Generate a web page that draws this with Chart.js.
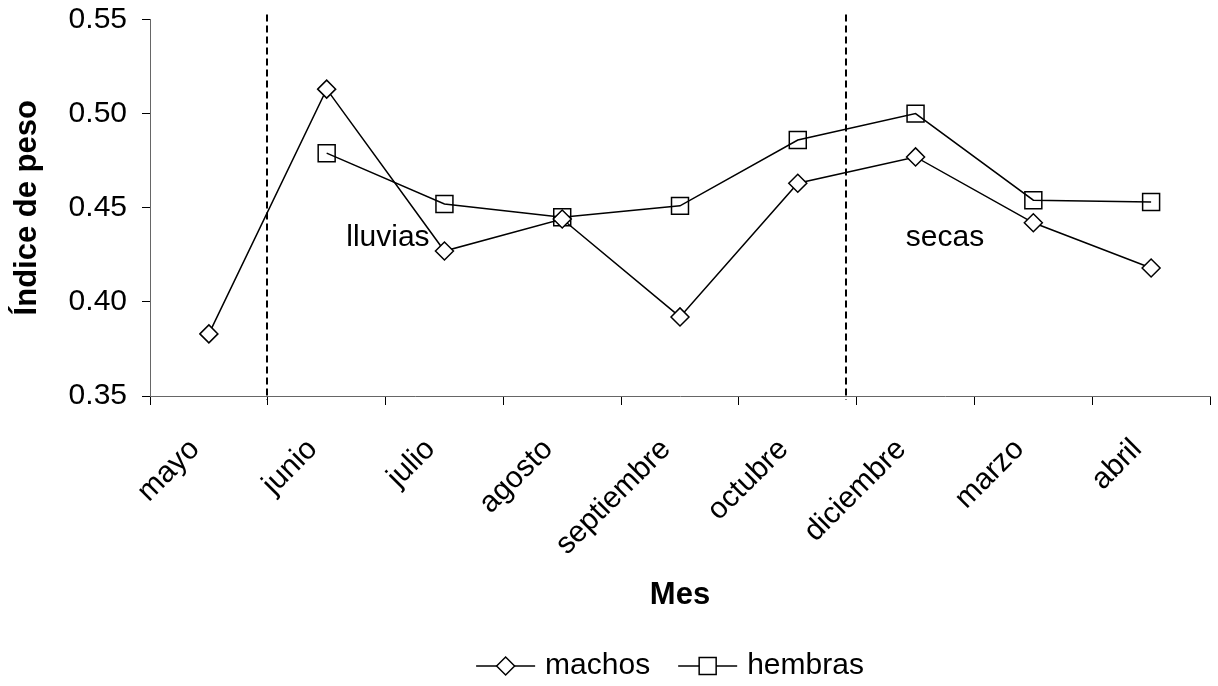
<!DOCTYPE html>
<html>
<head>
<meta charset="utf-8">
<script src="https://cdn.jsdelivr.net/npm/chart.js@4/dist/chart.umd.min.js"></script>
<style>
  html, body { margin: 0; padding: 0; background: #fff; }
  #wrap { width: 1218px; height: 686px; }
</style>
</head>
<body>
<div id="wrap"><canvas id="chart"></canvas></div>
<script>
// data
var meses = ['mayo', 'junio', 'julio', 'agosto', 'septiembre', 'octubre', 'diciembre', 'marzo', 'abril'];
var machos = [0.383, 0.513, 0.427, 0.444, 0.392, 0.463, 0.477, 0.442, 0.418];
var hembras = [null, 0.479, 0.452, 0.445, 0.451, 0.486, 0.500, 0.454, 0.453];
var yTicks = [0.35, 0.40, 0.45, 0.50, 0.55];

// season split lines (category index) and their labels
var cortes = [0.49, 5.41];
var temporadas = [
    { text: 'lluvias', x: 1.52, y: 0.434 },
    { text: 'secas', x: 6.25, y: 0.434 }
];

var FONT = "'Liberation Sans', Arial, sans-serif";

// dashed lines + season text
var seasonPlugin = {
    id: 'seasons',
    afterDatasetsDraw: function (chart) {
        var ctx = chart.ctx, xs = chart.scales.x, ys = chart.scales.y;
        ctx.save();
        ctx.strokeStyle = '#000';
        ctx.lineWidth = 2;
        ctx.setLineDash([7, 4]);
        cortes.forEach(function (c) {
            var px = Math.round(xs.getPixelForValue(c));
            ctx.beginPath();
            ctx.moveTo(px, chart.chartArea.top - 5);
            ctx.lineTo(px, chart.chartArea.bottom + 4);
            ctx.stroke();
        });
        ctx.setLineDash([]);
        ctx.fillStyle = '#000';
        ctx.font = '30px ' + FONT;
        ctx.textAlign = 'center';
        ctx.textBaseline = 'middle';
        temporadas.forEach(function (t) {
            ctx.fillText(t.text, xs.getPixelForValue(t.x), ys.getPixelForValue(t.y));
        });
        ctx.restore();
    }
};

// excel style legend: line with marker in the middle
function drawMarker(ctx, style, x, y) {
    ctx.beginPath();
    if (style === 'rectRot') {
        ctx.moveTo(x - 9, y); ctx.lineTo(x, y - 9); ctx.lineTo(x + 9, y); ctx.lineTo(x, y + 9);
    } else {
        ctx.rect(x - 8.5, y - 8.5, 17, 17);
    }
    ctx.closePath();
    ctx.fill();
    ctx.stroke();
}

var legendPlugin = {
    id: 'excelLegend',
    afterDraw: function (chart) {
        var ctx = chart.ctx;
        var sets = chart.data.datasets;
        ctx.save();
        ctx.font = '30px ' + FONT;
        var lineLen = 59, gap = 10, between = 28;
        var total = 0;
        sets.forEach(function (d, i) {
            total += lineLen + gap + ctx.measureText(d.label).width + (i ? between : 0);
        });
        var x = 670 - total / 2, y = 666;
        sets.forEach(function (d) {
            ctx.strokeStyle = '#000';
            ctx.fillStyle = '#fff';
            ctx.lineWidth = 1.5;
            ctx.beginPath();
            ctx.moveTo(x, y); ctx.lineTo(x + lineLen, y);
            ctx.stroke();
            drawMarker(ctx, d.pointStyle, x + lineLen / 2, y);
            ctx.fillStyle = '#000';
            ctx.textAlign = 'left';
            ctx.textBaseline = 'middle';
            ctx.fillText(d.label, x + lineLen + gap, y);
            x += lineLen + gap + ctx.measureText(d.label).width + between;
        });
        ctx.restore();
    }
};

var ctx = document.getElementById('chart').getContext('2d');
var chart = new Chart(ctx, {
    type: 'line',
    data: {
        labels: meses,
        datasets: [
            {
                label: 'machos',
                data: machos,
                borderColor: '#000',
                borderWidth: 1.5,
                pointStyle: 'rectRot',
                pointRadius: 9,
                pointBorderWidth: 1.5,
                pointBackgroundColor: '#fff',
                pointBorderColor: '#000',
                tension: 0
            },
            {
                label: 'hembras',
                data: hembras,
                borderColor: '#000',
                borderWidth: 1.5,
                pointStyle: 'rect',
                pointRadius: 12,
                pointBorderWidth: 1.5,
                pointBackgroundColor: 'rgba(255,255,255,0)',
                pointBorderColor: '#000',
                tension: 0
            }
        ]
    },
    options: {
        responsive: true,
        maintainAspectRatio: false,
        animation: false,
        layout: { autoPadding: false, padding: { top: 19.5, right: 8, bottom: 70, left: 0 } },
        plugins: {
            legend: { display: false },
            tooltip: { enabled: false }
        },
        scales: {
            x: {
                type: 'category',
                offset: true,
                grid: { offset: true, drawOnChartArea: false, drawTicks: true, tickLength: 9, color: '#000' },
                border: { color: '#666', width: 1 },
                ticks: {
                    autoSkip: false,
                    minRotation: 45,
                    maxRotation: 45,
                    padding: 27,
                    labelOffset: -14,
                    color: '#000',
                    font: { family: FONT, size: 30 }
                },
                title: {
                    display: true,
                    text: 'Mes',
                    color: '#000',
                    padding: { top: 0, bottom: 2 },
                    font: { family: FONT, size: 31, weight: 'bold' }
                },
                afterFit: function (scale) {
                    scale.height = 220;
                    scale.paddingLeft = 0;
                    scale.paddingRight = 0;
                }
            },
            y: {
                min: 0.35,
                max: 0.55,
                afterBuildTicks: function (scale) {
                    scale.ticks = yTicks.map(function (v) { return { value: v }; });
                },
                grid: { drawOnChartArea: false, drawTicks: true, tickLength: 8, color: '#000' },
                border: { color: '#666', width: 1 },
                ticks: {
                    padding: 15,
                    color: '#000',
                    font: { family: FONT, size: 30 },
                    callback: function (v) { return Number(v).toFixed(2); }
                },
                title: {
                    display: true,
                    text: 'Índice de peso',
                    color: '#000',
                    padding: { top: 9, bottom: 0 },
                    font: { family: FONT, size: 31, weight: 'bold' }
                },
                afterFit: function (scale) {
                    scale.width = 150;
                    scale.paddingTop = 0;
                    scale.paddingBottom = 0;
                }
            }
        }
    },
    plugins: [seasonPlugin, legendPlugin]
});
</script>
</body>
</html>
